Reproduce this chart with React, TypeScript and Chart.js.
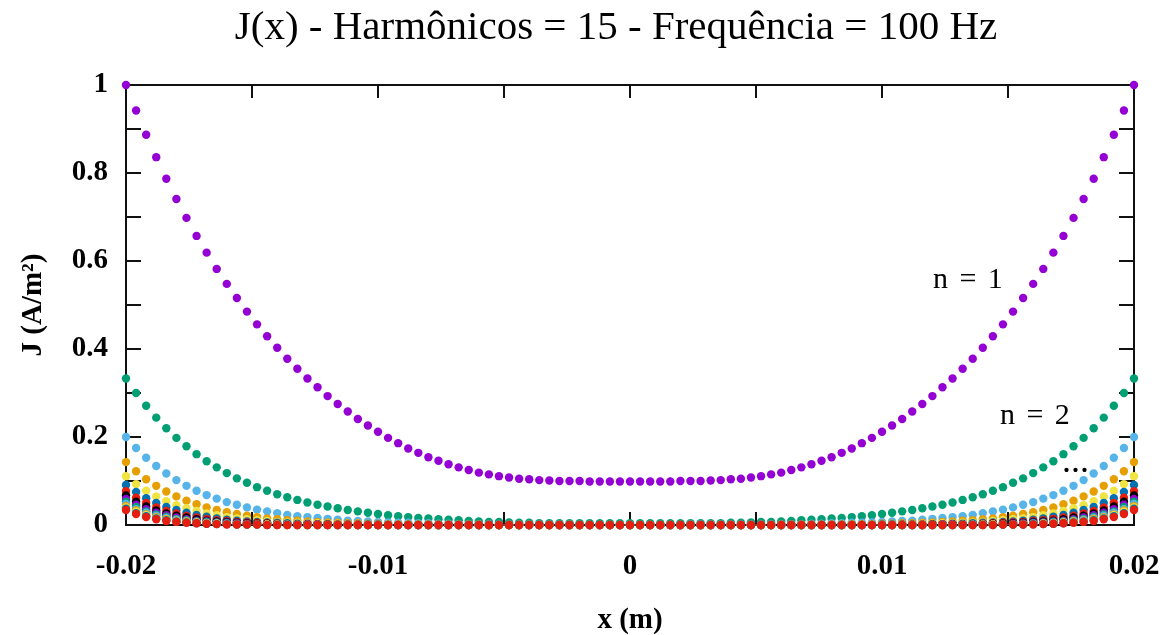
import React, { useEffect, useRef } from 'react';
import { Chart, registerables } from 'chart.js';

Chart.register(...registerables);

const TITLE = 'J(x) - Harmônicos = 15 - Frequência = 100 Hz';
const X_TITLE = 'x (m)';
const Y_TITLE = 'J (A/m²)';

const X_TICKS = [-0.02, -0.01, 0, 0.01, 0.02];
const X_TICK_LABELS = ['-0.02', '-0.01', '0', '0.01', '0.02'];
const X_MARKS = [-0.02, -0.015, -0.01, -0.005, 0, 0.005, 0.01, 0.015, 0.02];
const Y_TICKS = [0, 0.2, 0.4, 0.6, 0.8, 1];
const Y_TICK_LABELS = ['0', '0.2', '0.4', '0.6', '0.8', '1'];
const Y_MARKS = [0, 0.1, 0.2, 0.3, 0.4, 0.5, 0.6, 0.7, 0.8, 0.9, 1];

const X = [
  -0.0200, -0.0196, -0.0192, -0.0188, -0.0184, -0.0180, -0.0176, -0.0172, -0.0168, -0.0164,
  -0.0160, -0.0156, -0.0152, -0.0148, -0.0144, -0.0140, -0.0136, -0.0132, -0.0128, -0.0124,
  -0.0120, -0.0116, -0.0112, -0.0108, -0.0104, -0.0100, -0.0096, -0.0092, -0.0088, -0.0084,
  -0.0080, -0.0076, -0.0072, -0.0068, -0.0064, -0.0060, -0.0056, -0.0052, -0.0048, -0.0044,
  -0.0040, -0.0036, -0.0032, -0.0028, -0.0024, -0.0020, -0.0016, -0.0012, -0.0008, -0.0004,
  0,
  0.0004, 0.0008, 0.0012, 0.0016, 0.0020, 0.0024, 0.0028, 0.0032, 0.0036, 0.0040,
  0.0044, 0.0048, 0.0052, 0.0056, 0.0060, 0.0064, 0.0068, 0.0072, 0.0076, 0.0080,
  0.0084, 0.0088, 0.0092, 0.0096, 0.0100, 0.0104, 0.0108, 0.0112, 0.0116, 0.0120,
  0.0124, 0.0128, 0.0132, 0.0136, 0.0140, 0.0144, 0.0148, 0.0152, 0.0156, 0.0160,
  0.0164, 0.0168, 0.0172, 0.0176, 0.0180, 0.0184, 0.0188, 0.0192, 0.0196, 0.0200,
];

const H1 = [
  1.000, 0.942, 0.887, 0.836, 0.787, 0.741, 0.698, 0.657, 0.619, 0.582,
  0.548, 0.516, 0.485, 0.456, 0.429, 0.403, 0.378, 0.355, 0.333, 0.313,
  0.293, 0.275, 0.258, 0.241, 0.226, 0.212, 0.198, 0.186, 0.174, 0.164,
  0.154, 0.146, 0.138, 0.131, 0.125, 0.119, 0.115, 0.111, 0.108, 0.105,
  0.104, 0.102, 0.101, 0.100, 0.100, 0.100, 0.099, 0.099, 0.099, 0.099,
  0.099,
  0.099, 0.099, 0.099, 0.099, 0.100, 0.100, 0.100, 0.101, 0.102, 0.104,
  0.105, 0.108, 0.111, 0.115, 0.119, 0.125, 0.131, 0.138, 0.146, 0.154,
  0.164, 0.174, 0.186, 0.198, 0.212, 0.226, 0.241, 0.258, 0.275, 0.293,
  0.313, 0.333, 0.355, 0.378, 0.403, 0.429, 0.456, 0.485, 0.516, 0.548,
  0.582, 0.619, 0.657, 0.698, 0.741, 0.787, 0.836, 0.887, 0.942, 1.000,
];

const H2 = [
  0.333, 0.300, 0.271, 0.244, 0.220, 0.198, 0.179, 0.161, 0.145, 0.131,
  0.118, 0.106, 0.096, 0.086, 0.078, 0.070, 0.063, 0.057, 0.051, 0.046,
  0.042, 0.038, 0.034, 0.031, 0.028, 0.025, 0.022, 0.020, 0.018, 0.016,
  0.015, 0.013, 0.012, 0.011, 0.009, 0.008, 0.007, 0.007, 0.006, 0.005,
  0.005, 0.004, 0.004, 0.004, 0.004, 0.004, 0.004, 0.004, 0.004, 0.004,
  0.004,
  0.004, 0.004, 0.004, 0.004, 0.004, 0.004, 0.004, 0.004, 0.004, 0.005,
  0.005, 0.006, 0.007, 0.007, 0.008, 0.009, 0.011, 0.012, 0.013, 0.015,
  0.016, 0.018, 0.020, 0.022, 0.025, 0.028, 0.031, 0.034, 0.038, 0.042,
  0.046, 0.051, 0.057, 0.063, 0.070, 0.078, 0.086, 0.096, 0.106, 0.118,
  0.131, 0.145, 0.161, 0.179, 0.198, 0.220, 0.244, 0.271, 0.300, 0.333,
];

const H3 = [
  0.200, 0.175, 0.153, 0.134, 0.117, 0.102, 0.089, 0.078, 0.068, 0.060,
  0.052, 0.046, 0.040, 0.035, 0.031, 0.027, 0.023, 0.020, 0.018, 0.016,
  0.014, 0.012, 0.010, 0.009, 0.008, 0.007, 0.006, 0.005, 0.005, 0.004,
  0.004, 0.003, 0.003, 0.002, 0.002, 0.002, 0.002, 0.001, 0.001, 0.001,
  0.001, 0.001, 0.001, 0.001, 0.001, 0, 0, 0, 0, 0,
  0,
  0, 0, 0, 0, 0, 0.001, 0.001, 0.001, 0.001, 0.001,
  0.001, 0.001, 0.001, 0.002, 0.002, 0.002, 0.002, 0.003, 0.003, 0.004,
  0.004, 0.005, 0.005, 0.006, 0.007, 0.008, 0.009, 0.010, 0.012, 0.014,
  0.016, 0.018, 0.020, 0.023, 0.027, 0.031, 0.035, 0.040, 0.046, 0.052,
  0.060, 0.068, 0.078, 0.089, 0.102, 0.117, 0.134, 0.153, 0.175, 0.200,
];

const H4 = [
  0.143, 0.122, 0.104, 0.089, 0.076, 0.065, 0.055, 0.047, 0.040, 0.034,
  0.029, 0.025, 0.021, 0.018, 0.015, 0.013, 0.011, 0.010, 0.008, 0.007,
  0.006, 0.005, 0.004, 0.004, 0.003, 0.003, 0.002, 0.002, 0.002, 0.001,
  0.001, 0.001, 0.001, 0.001, 0.001, 0.001, 0, 0, 0, 0,
  0, 0, 0, 0, 0, 0, 0, 0, 0, 0,
  0,
  0, 0, 0, 0, 0, 0, 0, 0, 0, 0,
  0, 0, 0, 0, 0.001, 0.001, 0.001, 0.001, 0.001, 0.001,
  0.001, 0.002, 0.002, 0.002, 0.003, 0.003, 0.004, 0.004, 0.005, 0.006,
  0.007, 0.008, 0.010, 0.011, 0.013, 0.015, 0.018, 0.021, 0.025, 0.029,
  0.034, 0.040, 0.047, 0.055, 0.065, 0.076, 0.089, 0.104, 0.122, 0.143,
];

const H5 = [
  0.111, 0.093, 0.078, 0.065, 0.054, 0.045, 0.038, 0.032, 0.026, 0.022,
  0.018, 0.015, 0.013, 0.011, 0.009, 0.007, 0.006, 0.005, 0.004, 0.004,
  0.003, 0.003, 0.002, 0.002, 0.001, 0.001, 0.001, 0.001, 0.001, 0.001,
  0.001, 0, 0, 0, 0, 0, 0, 0, 0, 0,
  0, 0, 0, 0, 0, 0, 0, 0, 0, 0,
  0,
  0, 0, 0, 0, 0, 0, 0, 0, 0, 0,
  0, 0, 0, 0, 0, 0, 0, 0, 0, 0.001,
  0.001, 0.001, 0.001, 0.001, 0.001, 0.001, 0.002, 0.002, 0.003, 0.003,
  0.004, 0.004, 0.005, 0.006, 0.007, 0.009, 0.011, 0.013, 0.015, 0.018,
  0.022, 0.026, 0.032, 0.038, 0.045, 0.054, 0.065, 0.078, 0.093, 0.111,
];

const H6 = [
  0.091, 0.075, 0.061, 0.050, 0.041, 0.034, 0.028, 0.023, 0.019, 0.015,
  0.012, 0.010, 0.008, 0.007, 0.006, 0.005, 0.004, 0.003, 0.003, 0.002,
  0.002, 0.001, 0.001, 0.001, 0.001, 0.001, 0, 0, 0, 0,
  0, 0, 0, 0, 0, 0, 0, 0, 0, 0,
  0, 0, 0, 0, 0, 0, 0, 0, 0, 0,
  0,
  0, 0, 0, 0, 0, 0, 0, 0, 0, 0,
  0, 0, 0, 0, 0, 0, 0, 0, 0, 0,
  0, 0, 0, 0, 0.001, 0.001, 0.001, 0.001, 0.001, 0.002,
  0.002, 0.003, 0.003, 0.004, 0.005, 0.006, 0.007, 0.008, 0.010, 0.012,
  0.015, 0.019, 0.023, 0.028, 0.034, 0.041, 0.050, 0.061, 0.075, 0.091,
];

const H7 = [
  0.077, 0.062, 0.050, 0.040, 0.032, 0.026, 0.021, 0.017, 0.014, 0.011,
  0.009, 0.007, 0.006, 0.005, 0.004, 0.003, 0.002, 0.002, 0.002, 0.001,
  0.001, 0.001, 0.001, 0.001, 0, 0, 0, 0, 0, 0,
  0, 0, 0, 0, 0, 0, 0, 0, 0, 0,
  0, 0, 0, 0, 0, 0, 0, 0, 0, 0,
  0,
  0, 0, 0, 0, 0, 0, 0, 0, 0, 0,
  0, 0, 0, 0, 0, 0, 0, 0, 0, 0,
  0, 0, 0, 0, 0, 0, 0.001, 0.001, 0.001, 0.001,
  0.001, 0.002, 0.002, 0.002, 0.003, 0.004, 0.005, 0.006, 0.007, 0.009,
  0.011, 0.014, 0.017, 0.021, 0.026, 0.032, 0.040, 0.050, 0.062, 0.077,
];

const H8 = [
  0.067, 0.053, 0.042, 0.033, 0.026, 0.021, 0.017, 0.013, 0.010, 0.008,
  0.007, 0.005, 0.004, 0.003, 0.003, 0.002, 0.002, 0.001, 0.001, 0.001,
  0.001, 0, 0, 0, 0, 0, 0, 0, 0, 0,
  0, 0, 0, 0, 0, 0, 0, 0, 0, 0,
  0, 0, 0, 0, 0, 0, 0, 0, 0, 0,
  0,
  0, 0, 0, 0, 0, 0, 0, 0, 0, 0,
  0, 0, 0, 0, 0, 0, 0, 0, 0, 0,
  0, 0, 0, 0, 0, 0, 0, 0, 0, 0.001,
  0.001, 0.001, 0.001, 0.002, 0.002, 0.003, 0.003, 0.004, 0.005, 0.007,
  0.008, 0.010, 0.013, 0.017, 0.021, 0.026, 0.033, 0.042, 0.053, 0.067,
];

const H9 = [
  0.059, 0.046, 0.036, 0.028, 0.022, 0.017, 0.013, 0.010, 0.008, 0.006,
  0.005, 0.004, 0.003, 0.002, 0.002, 0.001, 0.001, 0.001, 0.001, 0.001,
  0, 0, 0, 0, 0, 0, 0, 0, 0, 0,
  0, 0, 0, 0, 0, 0, 0, 0, 0, 0,
  0, 0, 0, 0, 0, 0, 0, 0, 0, 0,
  0,
  0, 0, 0, 0, 0, 0, 0, 0, 0, 0,
  0, 0, 0, 0, 0, 0, 0, 0, 0, 0,
  0, 0, 0, 0, 0, 0, 0, 0, 0, 0,
  0.001, 0.001, 0.001, 0.001, 0.001, 0.002, 0.002, 0.003, 0.004, 0.005,
  0.006, 0.008, 0.010, 0.013, 0.017, 0.022, 0.028, 0.036, 0.046, 0.059,
];

const H10 = [
  0.053, 0.041, 0.031, 0.024, 0.019, 0.014, 0.011, 0.008, 0.007, 0.005,
  0.004, 0.003, 0.002, 0.002, 0.001, 0.001, 0.001, 0.001, 0, 0,
  0, 0, 0, 0, 0, 0, 0, 0, 0, 0,
  0, 0, 0, 0, 0, 0, 0, 0, 0, 0,
  0, 0, 0, 0, 0, 0, 0, 0, 0, 0,
  0,
  0, 0, 0, 0, 0, 0, 0, 0, 0, 0,
  0, 0, 0, 0, 0, 0, 0, 0, 0, 0,
  0, 0, 0, 0, 0, 0, 0, 0, 0, 0,
  0, 0, 0.001, 0.001, 0.001, 0.001, 0.002, 0.002, 0.003, 0.004,
  0.005, 0.007, 0.008, 0.011, 0.014, 0.019, 0.024, 0.031, 0.041, 0.053,
];

const H11 = [
  0.048, 0.036, 0.028, 0.021, 0.016, 0.012, 0.009, 0.007, 0.005, 0.004,
  0.003, 0.002, 0.002, 0.001, 0.001, 0.001, 0.001, 0, 0, 0,
  0, 0, 0, 0, 0, 0, 0, 0, 0, 0,
  0, 0, 0, 0, 0, 0, 0, 0, 0, 0,
  0, 0, 0, 0, 0, 0, 0, 0, 0, 0,
  0,
  0, 0, 0, 0, 0, 0, 0, 0, 0, 0,
  0, 0, 0, 0, 0, 0, 0, 0, 0, 0,
  0, 0, 0, 0, 0, 0, 0, 0, 0, 0,
  0, 0, 0, 0.001, 0.001, 0.001, 0.001, 0.002, 0.002, 0.003,
  0.004, 0.005, 0.007, 0.009, 0.012, 0.016, 0.021, 0.028, 0.036, 0.048,
];

const H12 = [
  0.043, 0.033, 0.024, 0.018, 0.014, 0.010, 0.008, 0.006, 0.004, 0.003,
  0.002, 0.002, 0.001, 0.001, 0.001, 0.001, 0, 0, 0, 0,
  0, 0, 0, 0, 0, 0, 0, 0, 0, 0,
  0, 0, 0, 0, 0, 0, 0, 0, 0, 0,
  0, 0, 0, 0, 0, 0, 0, 0, 0, 0,
  0,
  0, 0, 0, 0, 0, 0, 0, 0, 0, 0,
  0, 0, 0, 0, 0, 0, 0, 0, 0, 0,
  0, 0, 0, 0, 0, 0, 0, 0, 0, 0,
  0, 0, 0, 0, 0.001, 0.001, 0.001, 0.001, 0.002, 0.002,
  0.003, 0.004, 0.006, 0.008, 0.010, 0.014, 0.018, 0.024, 0.033, 0.043,
];

const H13 = [
  0.040, 0.030, 0.022, 0.016, 0.012, 0.009, 0.007, 0.005, 0.004, 0.003,
  0.002, 0.001, 0.001, 0.001, 0.001, 0, 0, 0, 0, 0,
  0, 0, 0, 0, 0, 0, 0, 0, 0, 0,
  0, 0, 0, 0, 0, 0, 0, 0, 0, 0,
  0, 0, 0, 0, 0, 0, 0, 0, 0, 0,
  0,
  0, 0, 0, 0, 0, 0, 0, 0, 0, 0,
  0, 0, 0, 0, 0, 0, 0, 0, 0, 0,
  0, 0, 0, 0, 0, 0, 0, 0, 0, 0,
  0, 0, 0, 0, 0, 0.001, 0.001, 0.001, 0.001, 0.002,
  0.003, 0.004, 0.005, 0.007, 0.009, 0.012, 0.016, 0.022, 0.030, 0.040,
];

const H14 = [
  0.037, 0.027, 0.020, 0.015, 0.011, 0.008, 0.006, 0.004, 0.003, 0.002,
  0.002, 0.001, 0.001, 0.001, 0, 0, 0, 0, 0, 0,
  0, 0, 0, 0, 0, 0, 0, 0, 0, 0,
  0, 0, 0, 0, 0, 0, 0, 0, 0, 0,
  0, 0, 0, 0, 0, 0, 0, 0, 0, 0,
  0,
  0, 0, 0, 0, 0, 0, 0, 0, 0, 0,
  0, 0, 0, 0, 0, 0, 0, 0, 0, 0,
  0, 0, 0, 0, 0, 0, 0, 0, 0, 0,
  0, 0, 0, 0, 0, 0, 0.001, 0.001, 0.001, 0.002,
  0.002, 0.003, 0.004, 0.006, 0.008, 0.011, 0.015, 0.020, 0.027, 0.037,
];

const H15 = [
  0.034, 0.025, 0.018, 0.013, 0.009, 0.007, 0.005, 0.004, 0.003, 0.002,
  0.001, 0.001, 0.001, 0.001, 0, 0, 0, 0, 0, 0,
  0, 0, 0, 0, 0, 0, 0, 0, 0, 0,
  0, 0, 0, 0, 0, 0, 0, 0, 0, 0,
  0, 0, 0, 0, 0, 0, 0, 0, 0, 0,
  0,
  0, 0, 0, 0, 0, 0, 0, 0, 0, 0,
  0, 0, 0, 0, 0, 0, 0, 0, 0, 0,
  0, 0, 0, 0, 0, 0, 0, 0, 0, 0,
  0, 0, 0, 0, 0, 0, 0.001, 0.001, 0.001, 0.001,
  0.002, 0.003, 0.004, 0.005, 0.007, 0.009, 0.013, 0.018, 0.025, 0.034,
];

const SERIES = [H1, H2, H3, H4, H5, H6, H7, H8, H9, H10, H11, H12, H13, H14, H15];
const SERIES_NAMES = [
  'n = 1', 'n = 2', 'n = 3', 'n = 4', 'n = 5', 'n = 6', 'n = 7', 'n = 8',
  'n = 9', 'n = 10', 'n = 11', 'n = 12', 'n = 13', 'n = 14', 'n = 15',
];
const COLORS = ['#9400D3', '#009E73', '#56B4E9', '#E69F00', '#F0E442', '#0072B2', '#E51E10', '#000000'];

const ANNOT_TEXT = ['n = 1', 'n = 2', '...'];
const ANNOT_X = [0.01202, 0.01468, 0.01714];
const ANNOT_Y = [0.5386, 0.2295, 0.12];

const SERIF = '"Liberation Serif", "Times New Roman", Times, serif';

const framePlugin = {
  id: 'gnuFrame',
  beforeDatasetsDraw(chart: any) {
    const { ctx, chartArea } = chart;
    const { left, right, top, bottom } = chartArea;
    const xs = chart.scales.x;
    const ys = chart.scales.y;
    ctx.save();
    ctx.strokeStyle = '#111';
    ctx.lineWidth = 2;
    ctx.strokeRect(left, top, right - left, bottom - top);
    ctx.beginPath();
    X_MARKS.forEach((v) => {
      const px = Math.round(xs.getPixelForValue(v));
      ctx.moveTo(px, bottom);
      ctx.lineTo(px, bottom - 13);
      ctx.moveTo(px, top);
      ctx.lineTo(px, top + 13);
    });
    Y_MARKS.forEach((v) => {
      const py = Math.round(ys.getPixelForValue(v));
      ctx.moveTo(left, py);
      ctx.lineTo(left + 15, py);
      ctx.moveTo(right, py);
      ctx.lineTo(right - 15, py);
    });
    ctx.stroke();
    ctx.restore();
  },
  afterDatasetsDraw(chart: any) {
    const { ctx } = chart;
    const xs = chart.scales.x;
    const ys = chart.scales.y;
    ctx.save();
    ctx.fillStyle = '#000';
    ctx.textAlign = 'left';
    ctx.textBaseline = 'alphabetic';
    ANNOT_TEXT.forEach((t, i) => {
      const isDots = t === '...';
      ctx.font = `${isDots ? 36 : 30}px ${SERIF}`;
      try { (ctx as any).wordSpacing = isDots ? '0px' : '4px'; } catch (e) { /* ignore */ }
      ctx.fillText(t, xs.getPixelForValue(ANNOT_X[i]), ys.getPixelForValue(ANNOT_Y[i]));
    });
    try { (ctx as any).wordSpacing = '0px'; } catch (e) { /* ignore */ }
    // chart title
    ctx.font = `41px ${SERIF}`;
    ctx.textAlign = 'center';
    ctx.fillText(TITLE, 616, 39);
    ctx.restore();
  },
};

export default function App() {
  const ref = useRef<HTMLCanvasElement | null>(null);

  useEffect(() => {
    document.body.style.margin = '0';
    const canvas = ref.current;
    if (!canvas) return;
    const chart = new Chart(canvas, {
      type: 'scatter',
      data: {
        datasets: SERIES.map((ys, s) => ({
          label: SERIES_NAMES[s],
          data: ys.map((y, i) => ({ x: X[i], y })),
          backgroundColor: COLORS[s % COLORS.length],
          borderColor: COLORS[s % COLORS.length],
          pointRadius: 4.2,
          pointHoverRadius: 4.2,
          pointBorderWidth: 0,
          showLine: false,
          clip: false,
          order: SERIES.length - s,
        })),
      },
      options: {
        animation: false,
        responsive: false,
        maintainAspectRatio: false,
        events: [],
        layout: { padding: { left: 0, right: 41, top: 85, bottom: 0 } },
        plugins: {
          legend: { display: false },
          tooltip: { enabled: false },
          title: { display: false },
        },
        scales: {
          x: {
            type: 'linear',
            min: -0.02,
            max: 0.02,
            grid: { display: false, drawTicks: false },
            border: { display: false },
            afterBuildTicks: (scale: any) => {
              scale.ticks = X_TICKS.map((v) => ({ value: v }));
            },
            afterFit: (scale: any) => {
              scale.height = 110;
              scale.paddingLeft = 0;
              scale.paddingRight = 0;
            },
            ticks: {
              padding: 24,
              color: '#000',
              autoSkip: false,
              maxRotation: 0,
              font: { family: SERIF, size: 29, weight: 'bold' },
              callback: (_v: any, i: number) => X_TICK_LABELS[i],
            },
            title: {
              display: true,
              text: X_TITLE,
              color: '#000',
              font: { family: SERIF, size: 29, weight: 'bold' },
              padding: { top: 0, bottom: -3 },
            },
          },
          y: {
            type: 'linear',
            min: 0,
            max: 1,
            grid: { display: false, drawTicks: false },
            border: { display: false },
            afterBuildTicks: (scale: any) => {
              scale.ticks = Y_TICKS.map((v) => ({ value: v }));
            },
            afterFit: (scale: any) => {
              scale.width = 126;
              scale.paddingTop = 0;
              scale.paddingBottom = 0;
            },
            ticks: {
              padding: 18,
              color: '#000',
              autoSkip: false,
              font: { family: SERIF, size: 29, weight: 'bold' },
              callback: (_v: any, i: number) => Y_TICK_LABELS[i],
            },
            title: {
              display: true,
              text: Y_TITLE,
              color: '#000',
              font: { family: SERIF, size: 29, weight: 'bold' },
              padding: { top: 16, bottom: 0 },
            },
          },
        },
      },
      plugins: [framePlugin],
    } as any);
    return () => chart.destroy();
  }, []);

  return (
    <div style={{ width: 1175, height: 635, background: '#fff' }}>
      <canvas ref={ref} width={1175} height={635} style={{ display: 'block' }} />
    </div>
  );
}
